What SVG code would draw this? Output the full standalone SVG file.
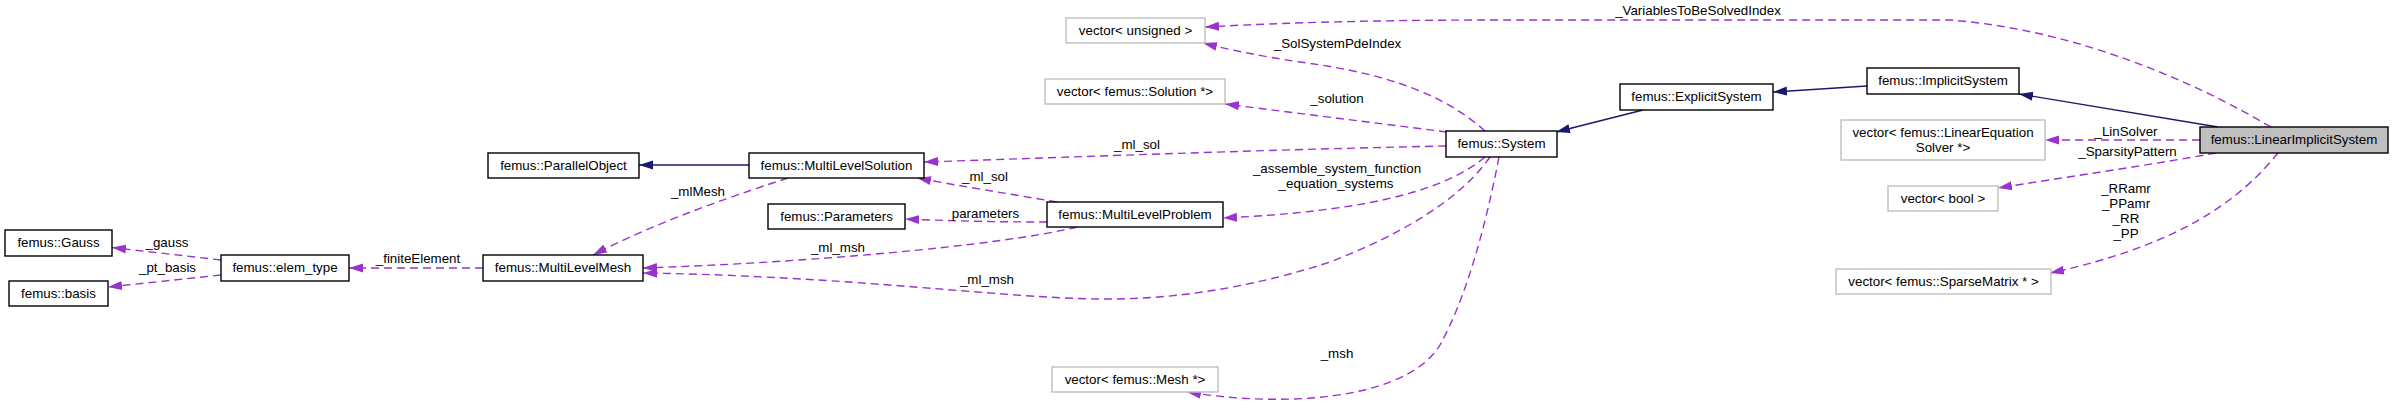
<svg xmlns="http://www.w3.org/2000/svg" width="2393" height="408" viewBox="0 0 2393 408">
<style>
text{font-family:"Liberation Sans",Arial,Helvetica,sans-serif;font-size:13.33px;fill:#000;text-anchor:middle}
.node rect{fill:#fff;stroke:#000;stroke-width:1.4}
.node.ext rect{stroke:#bfbfbf}
.node.focus rect{fill:#bfbfbf}
.inh{fill:none;stroke:#191970;stroke-width:1.4}
.col{fill:none;stroke:#9a32cd;stroke-width:1.4;stroke-dasharray:8,5}
</style>
<defs>
<marker id="ap" markerUnits="userSpaceOnUse" markerWidth="14" markerHeight="10" viewBox="0 0 14 10" refX="14" refY="5" orient="auto"><path d="M0,0.5 L14,5 L0,9.5 z" fill="#9a32cd"/></marker>
<marker id="ab" markerUnits="userSpaceOnUse" markerWidth="14" markerHeight="10" viewBox="0 0 14 10" refX="14" refY="5" orient="auto"><path d="M0,0.5 L14,5 L0,9.5 z" fill="#191970"/></marker>
</defs>
<rect width="2393" height="408" fill="#fff"/>
<g id="edges">
<path class="inh" marker-end="url(#ab)" d="M749,165 L639,165"/>
<path class="inh" marker-end="url(#ab)" d="M1643,110 L1556,132"/>
<path class="inh" marker-end="url(#ab)" d="M1867,86 L1773,92"/>
<path class="inh" marker-end="url(#ab)" d="M2218,127 L2019,94"/>
<path class="col" marker-end="url(#ap)" d="M221,260 L112,247.5"/>
<path class="col" marker-end="url(#ap)" d="M221,275 L108,287"/>
<path class="col" marker-end="url(#ap)" d="M483,268 L349,268"/>
<path class="col" marker-end="url(#ap)" d="M788,178 C745,192 660,220 593,255"/>
<path class="col" marker-end="url(#ap)" d="M1446,146 C1250,150 1050,158 924,162"/>
<path class="col" marker-end="url(#ap)" d="M1057,202 C1010,194 960,186 917,178"/>
<path class="col" marker-end="url(#ap)" d="M1047,222 C1000,222 950,221 905,219"/>
<path class="col" marker-end="url(#ap)" d="M1077,227 C1000,246 800,263 643,268"/>
<path class="col" marker-end="url(#ap)" d="M1490,157 C1460,200 1400,235 1330,262 C1260,285 1180,300 1100,299 C1000,298 850,276 643,273"/>
<path class="col" marker-end="url(#ap)" d="M1485,157 C1440,195 1350,212 1223,218"/>
<path class="col" marker-end="url(#ap)" d="M1499,157 C1485,230 1465,300 1440,345 C1410,395 1300,410 1187,392"/>
<path class="col" marker-end="url(#ap)" d="M1447,132 L1225,104"/>
<path class="col" marker-end="url(#ap)" d="M1485,131 C1450,100 1400,75 1300,62 C1260,56 1230,50 1203,43"/>
<path class="col" marker-end="url(#ap)" d="M2271,127 C2200,85 2080,30 1950,20 L1500,20 C1350,20 1260,24 1205,27"/>
<path class="col" marker-end="url(#ap)" d="M2200,140 L2045,140"/>
<path class="col" marker-end="url(#ap)" d="M2216,153 C2150,165 2060,178 1998,188"/>
<path class="col" marker-end="url(#ap)" d="M2278,153 C2240,200 2180,245 2050,273"/>
<text x="167" y="247">_gauss</text>
<text x="167.5" y="272">_pt_basis</text>
<text x="418" y="263">_finiteElement</text>
<text x="698" y="196">_mlMesh</text>
<text x="1137" y="149">_ml_sol</text>
<text x="985" y="181">_ml_sol</text>
<text x="985.5" y="218">parameters</text>
<text x="838" y="252">_ml_msh</text>
<text x="987" y="284">_ml_msh</text>
<text x="1337" y="172.7">_assemble_system_function</text>
<text x="1336" y="187.7">_equation_systems</text>
<text x="1337.5" y="48.3">_SolSystemPdeIndex</text>
<text x="1337" y="102.7">_solution</text>
<text x="1337" y="358.3">_msh</text>
<text x="1698" y="15">_VariablesToBeSolvedIndex</text>
<text x="2126" y="136">_LinSolver</text>
<text x="2127.5" y="156">_SparsityPattern</text>
<text x="2126" y="192.7">_RRamr</text>
<text x="2126" y="207.7">_PPamr</text>
<text x="2126" y="222.7">_RR</text>
<text x="2126" y="237.5">_PP</text>
</g>
<g id="n-gauss" class="node"><rect x="5" y="230" width="107" height="26"/><text x="58.5" y="247">femus::Gauss</text></g>
<g id="n-basis" class="node"><rect x="9" y="281" width="99" height="25"/><text x="58.5" y="297.5">femus::basis</text></g>
<g id="n-elemtype" class="node"><rect x="221" y="255" width="128" height="26"/><text x="285" y="272">femus::elem_type</text></g>
<g id="n-mlmesh" class="node"><rect x="483" y="255" width="160" height="26"/><text x="563" y="272">femus::MultiLevelMesh</text></g>
<g id="n-parallel" class="node"><rect x="488" y="153" width="151" height="25"/><text x="563.5" y="169.5">femus::ParallelObject</text></g>
<g id="n-mlsol" class="node"><rect x="749" y="153" width="175" height="25"/><text x="836.5" y="169.5">femus::MultiLevelSolution</text></g>
<g id="n-params" class="node"><rect x="768" y="204" width="137" height="25"/><text x="836.5" y="220.5">femus::Parameters</text></g>
<g id="n-mlprob" class="node"><rect x="1047" y="202" width="176" height="25"/><text x="1135" y="218.5">femus::MultiLevelProblem</text></g>
<g id="n-vunsigned" class="node ext"><rect x="1066" y="18" width="139" height="25"/><text x="1135.5" y="34.5">vector&lt; unsigned &gt;</text></g>
<g id="n-vsolution" class="node ext"><rect x="1045" y="79" width="180" height="25"/><text x="1135" y="95.5">vector&lt; femus::Solution *&gt;</text></g>
<g id="n-system" class="node"><rect x="1446" y="131" width="111" height="26"/><text x="1501.5" y="148">femus::System</text></g>
<g id="n-vmesh" class="node ext"><rect x="1052" y="367" width="166" height="25"/><text x="1135" y="383.5">vector&lt; femus::Mesh *&gt;</text></g>
<g id="n-explicit" class="node"><rect x="1620" y="84" width="153" height="26"/><text x="1696.5" y="101">femus::ExplicitSystem</text></g>
<g id="n-implicit" class="node"><rect x="1867" y="68" width="152" height="26"/><text x="1943" y="85">femus::ImplicitSystem</text></g>
<g id="n-vles" class="node ext"><rect x="1841" y="120" width="204" height="40"/><text x="1943" y="136.5">vector&lt; femus::LinearEquation</text><text x="1943" y="151.5">Solver *&gt;</text></g>
<g id="n-vbool" class="node ext"><rect x="1888" y="186" width="110" height="25"/><text x="1943" y="202.5">vector&lt; bool &gt;</text></g>
<g id="n-vsparse" class="node ext"><rect x="1836" y="269" width="215" height="25"/><text x="1943.5" y="285.5">vector&lt; femus::SparseMatrix * &gt;</text></g>
<g id="n-lis" class="node focus"><rect x="2200" y="127" width="188" height="26"/><text x="2294" y="144">femus::LinearImplicitSystem</text></g>
</svg>
